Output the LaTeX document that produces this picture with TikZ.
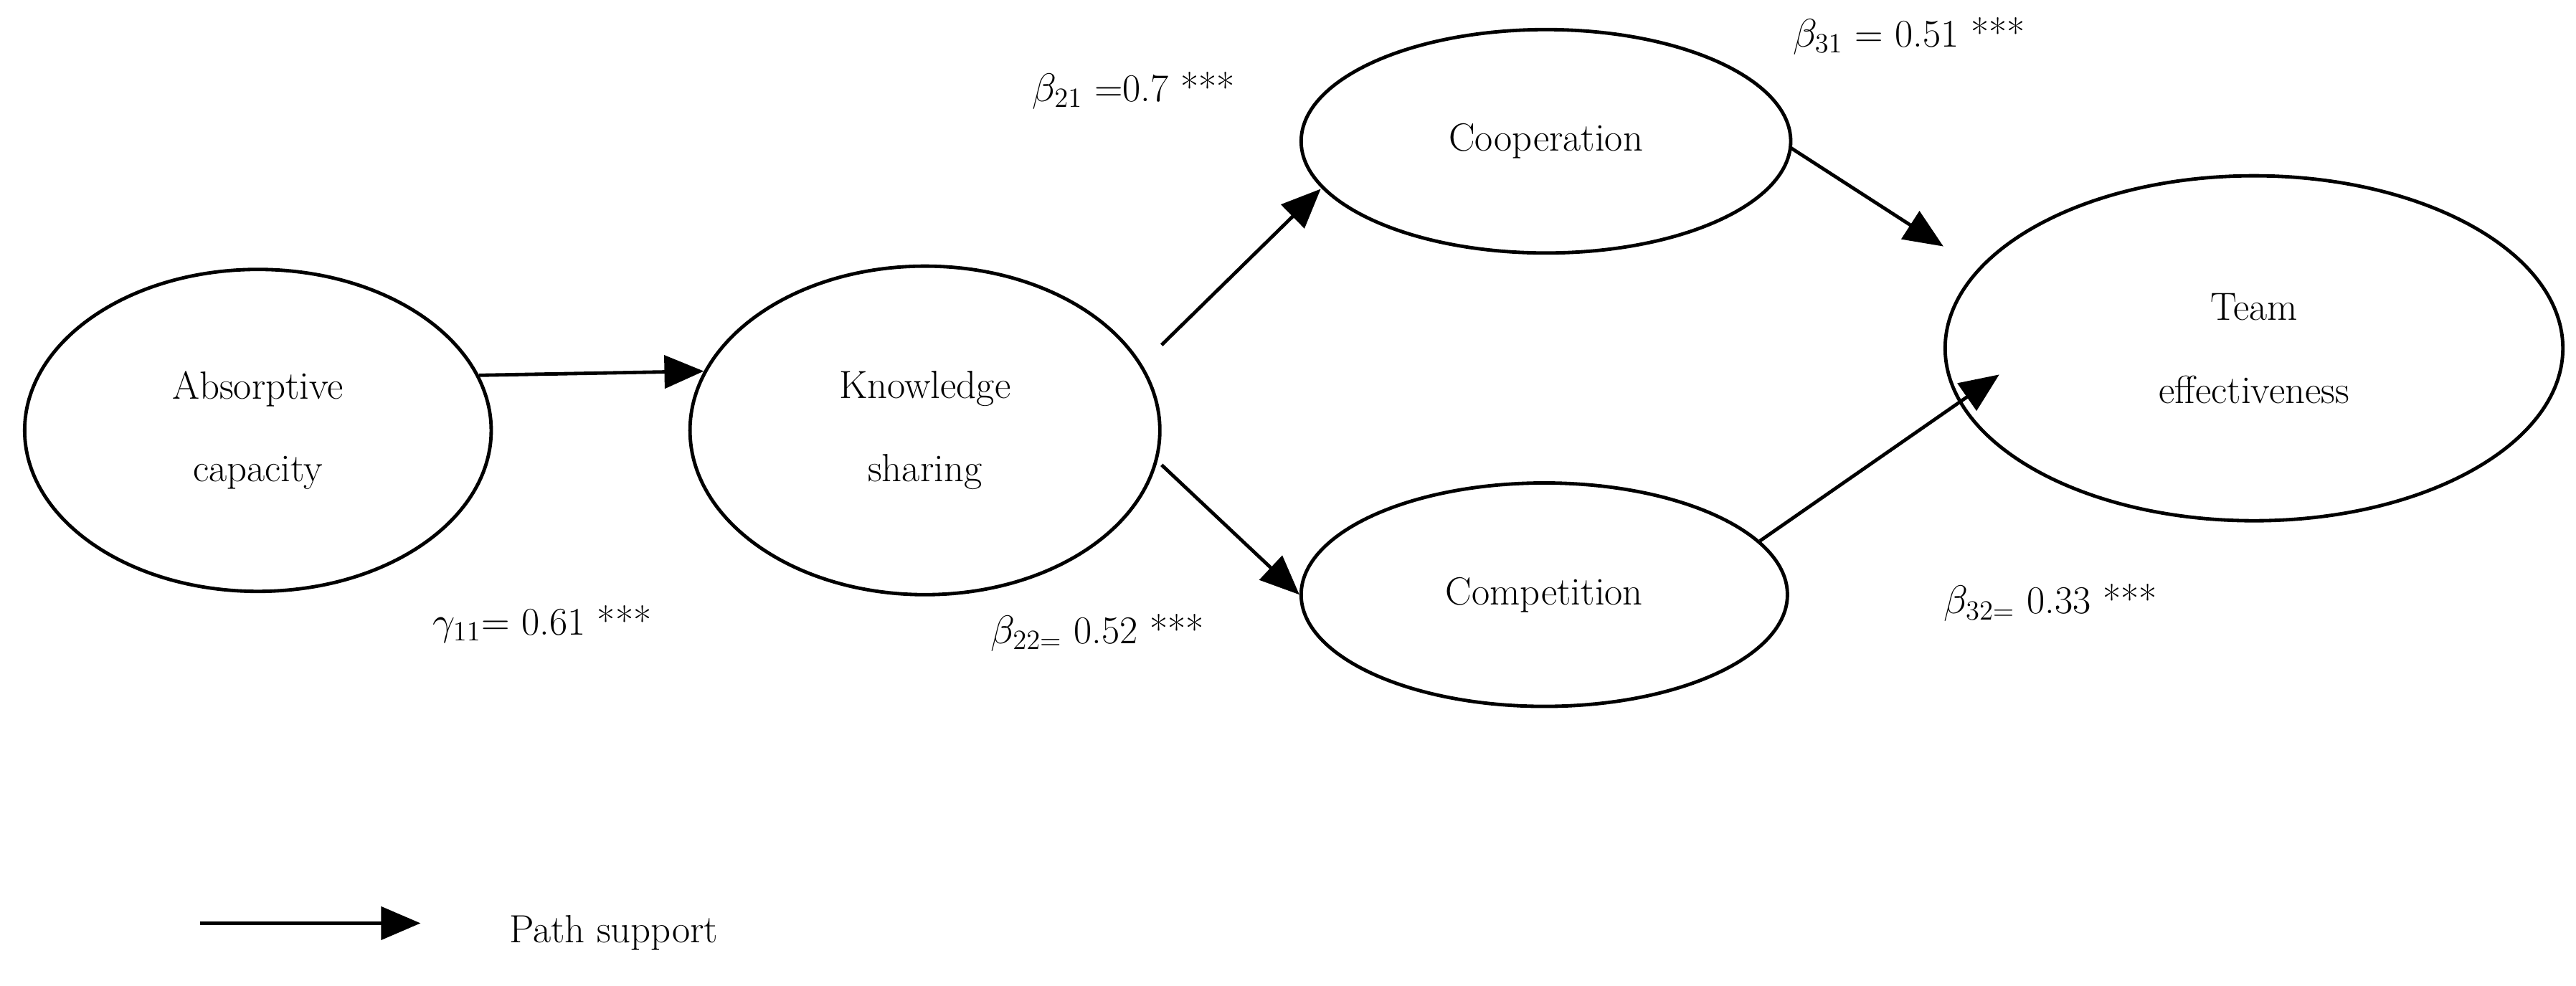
\documentclass[tikz,border=0pt]{standalone}
\usetikzlibrary{shapes.geometric,arrows.meta,calc}
\begin{document}
\begin{tikzpicture}[x=0.025cm,y=-0.025cm,
  lat/.style={draw,ellipse,line width=1.5pt,inner sep=0pt,align=center,font=\fontsize{17}{36}\selectfont},
  path/.style={line width=1.5pt,-{Triangle[length=0.6cm,width=0.5cm]}},
  lbl/.style={font=\fontsize{17}{20}\selectfont,anchor=center}]
\useasboundingbox (0,0) rectangle (1568,600);
\node[lat,minimum width=284*0.025cm,minimum height=196*0.025cm] (ab) at (157,262) {Absorptive\\capacity};
\node[lat,minimum width=286*0.025cm,minimum height=200*0.025cm] (ks) at (563,262) {Knowledge\\sharing};
\node[lat,minimum width=298*0.025cm,minimum height=136*0.025cm] (co) at (941,86) {Cooperation};
\node[lat,minimum width=296*0.025cm,minimum height=136*0.025cm] (cm) at (940,362) {Competition};
\node[lat,minimum width=376*0.025cm,minimum height=210*0.025cm] (te) at (1372,212) {Team\\effectiveness};
\draw[path] (ab.14) -- (ks.165);
\draw[path] ($(ks.east)+(0,-52)$) -- ($(co.west)+(13,29)$);
\draw[path] ($(ks.east)+(0,21)$) -- (cm.180);
\draw[path] ($(co.east)+(-1,4)$) -- ($(te.west)+(0,-62)$);
\draw[path] (cm.14) -- ($(te.west)+(34,16)$);
\node[lbl] (g11) at (330,380) {$\gamma_{11}$= 0.61 ***};
\node[lbl] (b21) at (690,55) {$\beta_{21}$ =0.7 ***};
\node[lbl] (b22) at (668,385) {$\beta_{22=}$ 0.52 ***};
\node[lbl] (b31) at (1162,22) {$\beta_{31}$ = 0.51 ***};
\node[lbl] (b32) at (1248,367) {$\beta_{32=}$ 0.33 ***};
\coordinate (l1) at (122,562);
\coordinate (l2) at (256,562);
\draw[path] (l1) -- (l2);
\node[lbl,anchor=west] (ps) at (305,568) {Path support};
\end{tikzpicture}
\end{document}
